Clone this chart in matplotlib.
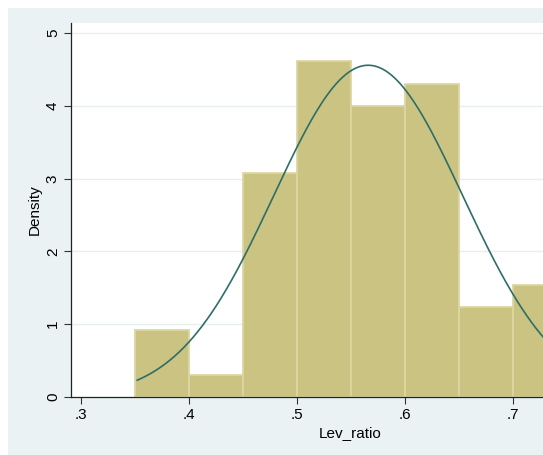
import numpy as np
import matplotlib.pyplot as plt
from matplotlib.patches import Rectangle

# histogram of Lev_ratio (density scale), bin width .05
bin_left = [0.35, 0.40, 0.45, 0.50, 0.55, 0.60, 0.65, 0.70]
density = [0.923, 0.308, 3.077, 4.615, 4.000, 4.308, 1.231, 1.538]
bin_width = 0.05

# normal overlay
mu = 0.5657
sd = 0.0875
x_min, x_max = 0.352, 0.78

xticks = [0.3, 0.4, 0.5, 0.6, 0.7]
xtick_labels = [".3", ".4", ".5", ".6", ".7"]
yticks = [0, 1, 2, 3, 4, 5]

plt.rcParams["font.family"] = ["Liberation Sans", "DejaVu Sans"]

fig = plt.figure(figsize=(5.43, 4.55), dpi=100)
fig.patch.set_facecolor("white")
fig.patches.append(Rectangle((8 / 543, 0), 1, (455 - 8) / 455,
                             transform=fig.transFigure, facecolor="#eaf2f3",
                             edgecolor="none", zorder=-10))

ax = fig.add_axes([71 / 543, 58 / 455, 558 / 543, 374 / 455])
ax.set_zorder(1)
ax.set_facecolor("white")

ax.bar(bin_left, density, width=bin_width, align="edge",
       color="#cbc381", edgecolor="#dcd6a3", linewidth=1.3, zorder=2)

xs = np.linspace(x_min, x_max, 400)
ys = np.exp(-0.5 * ((xs - mu) / sd) ** 2) / (sd * np.sqrt(2 * np.pi))
ax.plot(xs, ys, color="#2e6e69", lw=1.2, zorder=3)

for y in yticks[1:]:
    ax.axhline(y, color="#e6eff0", lw=1.0, zorder=1)

ax.set_xlim(0.2907, 0.807)
ax.set_ylim(0, 5.14)
ax.set_xticks(xticks)
ax.set_xticklabels(xtick_labels, fontsize=11)
ax.set_yticks(yticks)
ax.set_yticklabels([str(v) for v in yticks], fontsize=11, rotation=90, va="center")
ax.tick_params(length=5, width=0.8, color="#333333", pad=3)

for s in ["top", "right"]:
    ax.spines[s].set_visible(False)
for s in ["left", "bottom"]:
    ax.spines[s].set_color("#222222")
    ax.spines[s].set_linewidth(0.9)

ax.set_xlabel("Lev_ratio", fontsize=11, labelpad=3)
ax.set_ylabel("Density", fontsize=11, labelpad=3)

fig.savefig("out.png", dpi=100)
